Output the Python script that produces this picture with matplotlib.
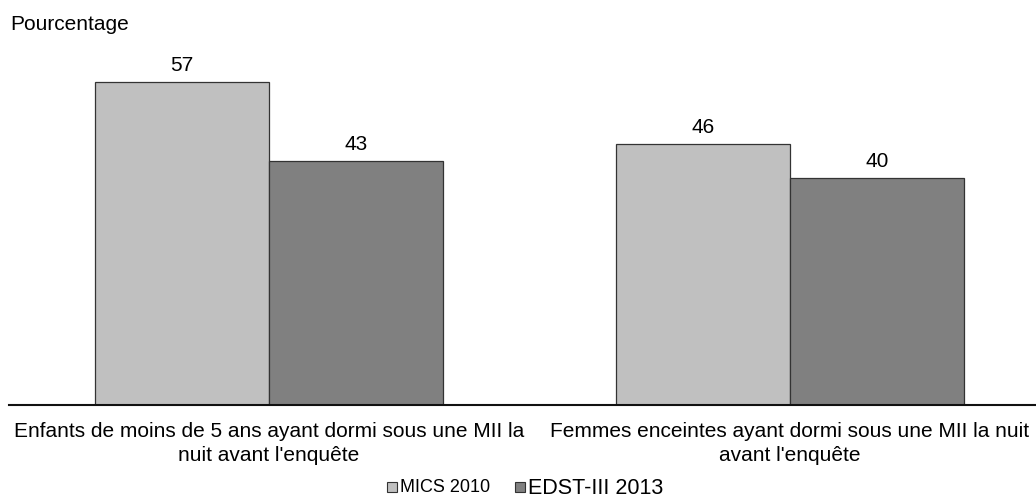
import matplotlib
matplotlib.use("Agg")
import matplotlib.pyplot as plt
import numpy as np
from matplotlib.patches import Rectangle

plt.rcParams['font.family'] = ['Liberation Sans', 'DejaVu Sans']

categories = ["Enfants de moins de 5 ans ayant dormi sous une MII la\nnuit avant l'enquête",
              "Femmes enceintes ayant dormi sous une MII la nuit\navant l'enquête"]
series_names = ["MICS 2010", "EDST-III 2013"]
mics = [57, 46]
edst = [43, 40]
colors = ["#C0C0C0", "#808080"]

W, H = 1036, 500
fig = plt.figure(figsize=(W / 100, H / 100), dpi=100)
# axes in pixel coordinates: left 9, right 1036, bottom 405, top 65
ax = fig.add_axes([9 / W, (H - 405) / H, (1036 - 9) / W, (405 - 65) / H])

x = np.arange(len(categories))
bw = 174 / 521
ax.bar(x - bw / 2, mics, bw, color=colors[0], edgecolor="#333333", linewidth=0.9, label=series_names[0])
ax.bar(x + bw / 2, edst, bw, color=colors[1], edgecolor="#333333", linewidth=0.9, label=series_names[1])

for xi, v in zip(x - bw / 2, mics):
    ax.annotate(str(v), (xi, v), xytext=(0, 5), textcoords="offset points",
                ha="center", va="bottom", fontsize=15)
for xi, v in zip(x + bw / 2, edst):
    ax.annotate(str(v), (xi, v), xytext=(0, 5), textcoords="offset points",
                ha="center", va="bottom", fontsize=15)

ax.set_xlim(-0.499, 1.472)
ax.set_ylim(0, 60)
ax.set_xticks(x)
ax.set_xticklabels(categories, fontsize=15, linespacing=1.33)
ax.tick_params(axis="x", length=0, pad=12)
ax.set_yticks([])
for s in ["top", "right", "left"]:
    ax.spines[s].set_visible(False)
ax.spines["bottom"].set_linewidth(1.5)
ax.spines["bottom"].set_color("#111111")

fig.text(10 / W, 1 - 24 / H, "Pourcentage", fontsize=15, va="center", ha="left")

# legend
ly = 1 - 488 / H
fig.patches.append(Rectangle((387 / W, ly - 4 / H), 10 / W, 10 / H, transform=fig.transFigure,
                             facecolor=colors[0], edgecolor="#333333", linewidth=0.8))
fig.text(400 / W, ly, series_names[0], fontsize=13, va="center", ha="left")
fig.patches.append(Rectangle((515 / W, ly - 4 / H), 10 / W, 10 / H, transform=fig.transFigure,
                             facecolor=colors[1], edgecolor="#333333", linewidth=0.8))
fig.text(528 / W, ly - 1 / H, series_names[1], fontsize=15.5, va="center", ha="left")

fig.savefig("out.png", dpi=100)
